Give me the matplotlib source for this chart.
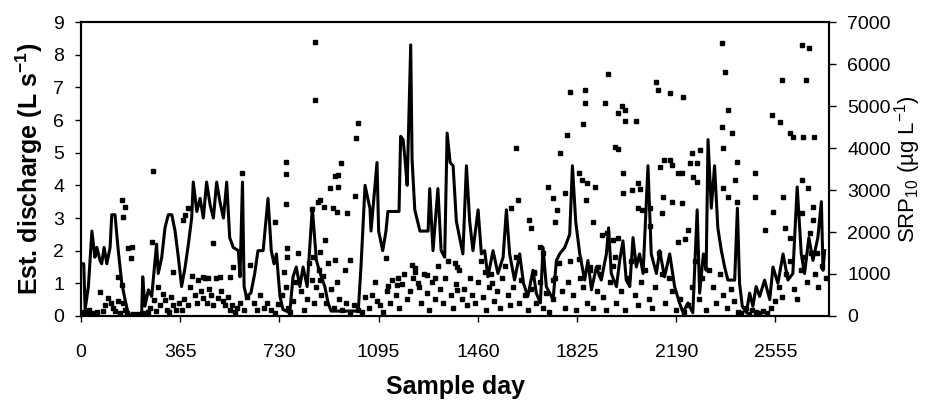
import matplotlib.pyplot as plt

plt.rcParams['font.family'] = ['Liberation Sans', 'DejaVu Sans']
plt.rcParams['mathtext.fontset'] = 'custom'
plt.rcParams['mathtext.rm'] = 'Liberation Sans'
plt.rcParams['mathtext.bf'] = 'Liberation Sans:bold'

# estimated discharge (L s-1) as (day, value)
q_points = [
    (0, 1.6), (10, 1.6), (15, 0.2), (27, 0.9), (40, 2.6), (51, 1.8), (58, 2.1), (70, 1.7),
    (76, 1.6), (85, 2.1), (95, 1.6), (107, 2.1), (113, 3.1), (125, 3.1), (137, 2.0), (150, 1.0),
    (162, 0.5), (174, 0.05), (223, 0.05), (227, 1.2), (235, 0.3), (248, 0.8), (260, 0.6),
    (278, 2.2), (284, 1.3), (297, 1.8), (309, 2.7), (321, 3.1), (334, 3.1), (346, 2.6),
    (358, 1.8), (370, 0.9), (383, 1.5), (395, 2.2), (407, 3.0), (413, 4.1), (426, 3.2),
    (438, 3.6), (450, 3.0), (462, 4.1), (475, 3.4), (487, 3.0), (499, 4.1), (511, 3.5),
    (524, 3.0), (536, 4.1), (547, 2.4), (560, 2.1), (579, 2.0), (585, 1.2), (594, 4.1),
    (600, 0.9), (608, 0.6), (625, 0.7), (639, 1.3), (651, 2.0), (670, 2.0), (688, 3.6),
    (700, 2.0), (710, 1.6), (719, 1.9), (732, 0.6), (743, 0.2), (768, 0.1), (780, 1.2),
    (792, 1.5), (805, 0.9), (817, 1.5), (832, 0.9), (851, 3.3), (866, 1.7), (880, 1.3),
    (897, 0.9), (909, 0.4), (920, 0.15), (1020, 0.15), (1030, 1.5), (1045, 4.0), (1055, 3.6),
    (1063, 3.3), (1067, 2.6), (1089, 4.7), (1095, 2.6), (1110, 2.0), (1122, 2.6), (1129, 3.2),
    (1170, 3.2), (1176, 5.5), (1185, 5.4), (1192, 4.8), (1200, 4.0), (1213, 8.3), (1218, 4.8),
    (1228, 3.25), (1247, 2.6), (1277, 2.6), (1283, 3.9), (1295, 2.0), (1313, 3.9), (1325, 2.0),
    (1338, 1.8), (1347, 5.6), (1358, 4.7), (1369, 4.6), (1381, 2.9), (1393, 2.4), (1405, 1.9),
    (1418, 4.6), (1430, 2.9), (1442, 2.0), (1461, 3.25), (1473, 1.9), (1485, 2.0), (1497, 1.2),
    (1516, 2.0), (1534, 1.3), (1553, 1.8), (1565, 3.25), (1577, 1.9), (1595, 1.1), (1614, 1.9),
    (1628, 1.0), (1644, 0.6), (1663, 1.4), (1675, 0.7), (1690, 0.4), (1700, 2.1), (1712, 0.9),
    (1737, 0.5), (1749, 1.7), (1761, 1.9), (1780, 2.1), (1798, 2.5), (1808, 4.6), (1820, 2.9),
    (1835, 1.9), (1853, 1.1), (1865, 1.7), (1878, 0.8), (1896, 1.5), (1914, 1.1), (1933, 1.9),
    (1941, 2.7), (1951, 1.3), (1970, 0.9), (1982, 1.7), (1994, 2.3), (2006, 1.1), (2019, 0.9),
    (2031, 2.4), (2043, 1.5), (2055, 1.9), (2068, 1.3), (2086, 4.6), (2098, 1.9), (2117, 1.3),
    (2129, 2.0), (2147, 1.2), (2166, 1.9), (2184, 0.9), (2202, 0.4), (2215, 0.1), (2233, 0.4),
    (2251, 0.1), (2267, 3.25), (2276, 0.7), (2290, 1.9), (2300, 1.4), (2307, 5.4), (2319, 3.3),
    (2331, 4.6), (2343, 2.7), (2356, 2.0), (2368, 1.5), (2380, 1.1), (2405, 1.1), (2415, 3.3),
    (2423, 1.0), (2433, 0.3), (2448, 0.1), (2460, 0.7), (2472, 0.3), (2484, 0.9), (2497, 0.6),
    (2515, 1.1), (2534, 0.5), (2546, 1.5), (2564, 1.0), (2583, 1.9), (2601, 1.1), (2619, 1.3),
    (2635, 3.95), (2650, 1.9), (2662, 1.3), (2678, 2.4), (2693, 1.7), (2711, 2.4), (2724, 3.5),
    (2730, 1.4), (2736, 2.0),
]

# SRP10 (ug L-1) samples, higher ones
srp_high = [
    (861, 6530), (861, 5140), (264, 3460), (593, 3410), (754, 3675), (754, 3380), (150, 2760),
    (162, 2600), (156, 2365), (172, 1610), (189, 1635), (184, 1375), (260, 1770), (375, 2285),
    (395, 2565), (383, 2405), (487, 1730), (714, 2245), (754, 2665), (757, 1610), (759, 1415),
    (849, 2540), (873, 2720), (70, 580), (340, 1055), (450, 935), (469, 895), (511, 935),
    (548, 935), (560, 1175), (622, 1215), (150, 740), (137, 935),
    (1020, 4590), (1012, 4230), (956, 3635), (945, 3365), (935, 3335), (916, 3040), (945, 3065),
    (879, 2760), (893, 2605), (927, 2570), (941, 2475), (978, 2460), (1008, 2855), (897, 1810),
    (879, 1525), (853, 1405), (934, 1335), (910, 1255), (990, 1335), (971, 1095), (879, 855),
    (1122, 1375), (1217, 1215), (1229, 1055), (1272, 975), (1303, 895), (1168, 895), (1162, 740),
    (1131, 715), (1241, 780), (1382, 620), (1376, 1255), (1382, 1175), (1486, 1055), (1511, 780),
    (1689, 1650), (1701, 1490), (1832, 1350), (1872, 1175), (1903, 1175), (1959, 1810),
    (1917, 1930), (1884, 2245), (1665, 1015), (1738, 855),
    (1600, 4000), (1606, 2760), (1581, 2570), (1649, 2285), (1655, 2095), (1762, 3880),
    (1787, 4310), (1799, 5335), (1854, 5380), (1854, 5070), (1846, 4570), (1832, 3405),
    (1843, 3240), (1861, 3165), (1891, 3070), (1858, 2760), (1718, 3070), (1736, 2810),
    (1751, 2525), (1744, 2240), (1781, 2930),
    (1940, 5760), (1928, 5080), (1977, 4825), (1989, 5000), (2001, 4905), (2001, 4650),
    (2042, 4650), (1965, 4030), (1977, 3970), (1995, 3400), (1995, 2935), (2026, 3000),
    (2050, 3175), (2057, 3015), (1934, 1970), (1977, 1850), (1965, 1415), (2050, 2565),
    (2063, 2525), (2093, 2565), (2093, 2145), (2115, 5580), (2122, 5380), (2167, 5300),
    (2216, 5220), (2130, 3555), (2146, 3715), (2167, 3715), (2173, 3585), (2198, 3395),
    (2210, 3395), (2240, 3635), (2247, 3875), (2265, 3635), (2277, 3950), (2142, 2840),
    (2136, 2445), (2173, 2720), (2210, 2700), (2253, 3315), (2265, 3200), (2198, 1770),
    (2222, 1825), (2234, 2050), (2357, 6490), (2369, 5815), (2382, 4905), (2357, 4510),
    (2394, 4365), (2363, 3990), (2412, 3675), (2406, 3240), (2363, 3040), (2382, 2840),
    (2412, 2720), (2480, 3395), (2480, 2840), (2516, 2050), (2547, 2485), (2541, 4785),
    (2572, 4625), (2578, 5620), (2666, 5620), (2608, 4350), (2621, 4270), (2657, 4255),
    (2698, 4255), (2651, 6450), (2678, 6375), (2584, 2840), (2651, 3240), (2676, 3040),
    (2692, 2605), (2651, 2445), (2694, 2285), (2682, 1970), (2608, 1850), (2707, 1490),
    (2590, 2085),
]

# SRP10 samples, the dense band near the bottom
srp_low = [
    (5, 50), (10, 100), (15, 30), (25, 80), (30, 150), (40, 60), (50, 40), (60, 100), (80, 120),
    (90, 250), (100, 420), (110, 300), (118, 200), (125, 120), (135, 350), (145, 80), (155, 300),
    (160, 150), (170, 60), (190, 50), (210, 40), (230, 60), (245, 100),
    (255, 200), (270, 380), (275, 120), (285, 700), (290, 250), (300, 520), (308, 380),
    (315, 150), (322, 100), (330, 450), (340, 250), (350, 150), (360, 300), (370, 150),
    (380, 400), (392, 250), (400, 700), (410, 950), (418, 500), (425, 300), (432, 850),
    (440, 600), (448, 420), (455, 900), (462, 300), (470, 650), (478, 500), (485, 250),
    (495, 900), (505, 420), (515, 600), (522, 350), (530, 250), (540, 450), (548, 150), (555, 250),
    (565, 100), (575, 200), (585, 320), (600, 150), (612, 450), (635, 300), (648, 150),
    (660, 500), (672, 200), (685, 320), (700, 150), (712, 80), (725, 280), (738, 500),
    (748, 1050), (755, 700), (760, 200),
    (770, 100), (780, 350), (790, 800), (800, 1500), (810, 600), (820, 150), (830, 400),
    (840, 1250), (848, 850), (858, 300), (866, 700), (875, 1100), (882, 500), (890, 950),
    (900, 300), (920, 650), (930, 200), (940, 800), (950, 400), (960, 150), (975, 300),
    (990, 100), (1005, 250), (1020, 150), (1035, 100), (1045, 450),
    (1060, 200), (1070, 500), (1082, 800), (1090, 350), (1100, 250), (1112, 100), (1125, 600),
    (1135, 300), (1145, 850), (1158, 500), (1170, 200), (1180, 750), (1190, 1000), (1200, 400),
    (1210, 600), (1222, 900), (1230, 1150), (1242, 700), (1250, 300), (1262, 1000), (1272, 550),
    (1282, 150), (1292, 800), (1302, 400), (1312, 1200), (1320, 650), (1330, 300), (1340, 900),
    (1350, 1300), (1360, 500), (1370, 200), (1380, 750), (1390, 1100), (1400, 400), (1410, 650),
    (1420, 250), (1430, 900), (1440, 500), (1450, 300),
    (1460, 800), (1470, 1300), (1480, 450), (1490, 150), (1500, 700), (1510, 1000), (1520, 350),
    (1530, 600), (1540, 200), (1550, 900), (1560, 1200), (1570, 500), (1580, 250), (1590, 700),
    (1600, 1400), (1610, 300), (1620, 850), (1632, 500), (1645, 150), (1655, 650), (1665, 1050),
    (1675, 300), (1688, 800), (1700, 200), (1712, 550), (1722, 100), (1735, 400), (1745, 900),
    (1758, 1250), (1770, 600), (1780, 200), (1790, 800), (1800, 1300),
    (1810, 500), (1822, 150), (1835, 900), (1848, 700), (1860, 300), (1872, 1100), (1885, 200),
    (1898, 600), (1910, 1000), (1920, 450), (1932, 150), (1945, 800), (1958, 1200), (1970, 300),
    (1985, 600), (2000, 150), (2012, 900), (2025, 1300), (2038, 500), (2050, 250), (2062, 800),
    (2075, 1100), (2088, 400), (2100, 200), (2112, 700), (2125, 1500), (2138, 1000), (2150, 300),
    (2162, 900), (2175, 600), (2190, 150), (2205, 400), (2220, 100),
    (2235, 250), (2248, 700), (2260, 1300), (2272, 400), (2285, 900), (2298, 150), (2310, 1100),
    (2325, 700), (2338, 300), (2350, 1000), (2362, 500), (2375, 200), (2390, 650), (2402, 350),
    (2418, 100), (2430, 80), (2445, 200), (2458, 50), (2470, 150), (2482, 100), (2495, 60),
    (2510, 120), (2525, 60), (2540, 180), (2555, 350), (2568, 700), (2580, 450), (2595, 1000),
    (2610, 1300), (2622, 650), (2635, 400), (2648, 1100), (2660, 1400), (2672, 800), (2685, 1500),
    (2700, 1000), (2712, 700), (2725, 1200), (2740, 900),
]

day_ticks = [0, 365, 730, 1095, 1460, 1825, 2190, 2555]

q_day = [d for d, v in q_points]
q_val = [v for d, v in q_points]
srp_day = [d for d, v in srp_high + srp_low]
srp_val = [v for d, v in srp_high + srp_low]

fig = plt.figure(figsize=(9.25, 4.01), dpi=100)
ax = fig.add_axes([0.0876, 0.212, 0.8086, 0.733])
ax2 = ax.twinx()

ax2.plot(srp_day, srp_val, 's', ms=3.2, color='black', mec='black', zorder=2)
ax.plot(q_day, q_val, '-', color='black', lw=2.2, zorder=3)
ax.set_zorder(ax2.get_zorder() + 1)
ax.patch.set_visible(False)

ax.set_xlim(0, 2752)
ax.set_ylim(0, 9)
ax2.set_ylim(0, 7000)
ax.set_xticks(day_ticks)
ax.set_yticks(range(0, 10))
ax2.set_yticks(range(0, 7001, 1000))

ax.tick_params(axis='x', length=4, width=1, pad=16, labelsize=14)
ax.tick_params(axis='y', length=4, width=1, pad=8, labelsize=14)
ax2.tick_params(axis='y', length=5, width=1, pad=8, labelsize=14)

for a in (ax, ax2):
    for s in a.spines.values():
        s.set_linewidth(1.5)

ax.set_ylabel(r'Est. discharge (L s$^{\mathbf{-1}}$)', fontsize=18, fontweight='bold', labelpad=6)
ax.set_xlabel('Sample day', fontsize=18, fontweight='bold', labelpad=10)
ax2.set_ylabel(r'SRP$_{10}$ (µg L$^{-1}$)', fontsize=16, labelpad=1)

fig.savefig('out.png', dpi=100)
